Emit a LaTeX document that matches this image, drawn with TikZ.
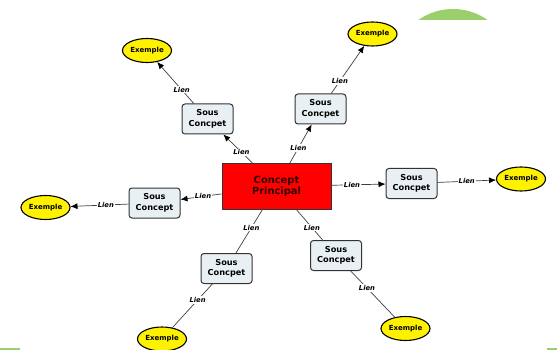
\documentclass[tikz,border=0pt]{standalone}
\usepackage{fontspec}
\setmainfont{DejaVu Sans}
\usetikzlibrary{arrows.meta,shapes.geometric}
\definecolor{boxfill}{HTML}{E9F0F3}
\definecolor{boxline}{HTML}{333333}
\definecolor{linkgray}{HTML}{404040}
\definecolor{slidegreen}{HTML}{9BCF6B}
\definecolor{cptext}{HTML}{300000}
\tikzset{principal/.style={draw=boxline,line width=1pt,fill=red,
        minimum width=109pt,minimum height=45pt,inner sep=0pt,
        align=center,text=cptext,font=\bfseries\fontsize{9.9}{11.5}\selectfont},
    souscpt/.style={draw=boxline,line width=1pt,fill=boxfill,rounded corners=3pt,
        minimum width=51pt,minimum height=30pt,inner sep=0pt,
        align=center,font=\bfseries\fontsize{8.2}{10.5}\selectfont},
    exemple/.style={ellipse,draw=black,line width=1.1pt,fill=yellow,
        minimum width=49pt,minimum height=24pt,inner sep=0pt,
        font=\bfseries\fontsize{7}{8}\selectfont},
    lien/.style={fill=white,inner sep=1pt,font=\bfseries\itshape\fontsize{6.8}{8}\selectfont},
    lk/.style={draw=linkgray,line width=0.7pt},
    lkarr/.style={lk,-{Latex[length=7pt,width=6pt,color=black]}},
    }

\begin{document}
\begin{tikzpicture}[x=1pt,y=-1pt]
\useasboundingbox (0,0) rectangle (557,350);
% fond de la diapositive
\begin{scope}
\clip (0,0) rectangle (557,20);
\fill[slidegreen] (453,69) circle (60pt);
\end{scope}
\fill[slidegreen] (0,348) rectangle (20,350);
\fill[slidegreen] (547,348) rectangle (557,350);

% concepts
\node[principal] (cp) at (276.5,186.5) {Concept\\Principal};
\node[souscpt] (scE) at (411.5,183.5) {Sous\\Concpet};
\node[exemple] (exE) at (521,179) {Exemple};
\node[souscpt] (scW) at (154.5,203) {Sous\\Concept};
\node[exemple] (exW) at (45.5,207.5) {Exemple};
\node[souscpt] (scNW) at (207.5,119) {Sous\\Concpet};
\node[exemple] (exNW) at (147,50.5) {Exemple};
\node[souscpt] (scNE) at (320.5,109) {Sous\\Concpet};
\node[exemple] (exNE) at (372.5,34) {Exemple};
\node[souscpt] (scSW) at (226.5,268.5) {Sous\\Concpet};
\node[exemple] (exSW) at (162,339) {Exemple};
\node[souscpt] (scSE) at (336,255.5) {Sous\\Concpet};
\node[exemple] (exSE) at (405.5,328.5) {Exemple};

% liens
\draw[lkarr] (cp) -- node[lien,pos=0.38] {Lien} (scE);
\draw[lkarr] (scE) -- node[lien,pos=0.5] {Lien} (exE);
\draw[lkarr] (cp) -- node[lien,pos=0.45] {Lien} (scW);
\draw[lkarr] (scW) -- node[lien,pos=0.39] {Lien} (exW);
\draw[lkarr] (cp) -- node[lien,pos=0.39] {Lien} (scNW);
\draw[lkarr] (scNW) -- node[lien,pos=0.33] {Lien} (exNW);
\draw[lkarr] (cp) -- node[lien,pos=0.4] {Lien} (scNE);
\draw[lkarr] (scNE) -- node[lien,pos=0.26] {Lien} (exNE);
\draw[lk] (cp) -- node[lien,pos=0.42] {Lien} (scSW);
\draw[lk] (scSW) -- node[lien,pos=0.37] {Lien} (exSW);
\draw[lk] (cp) -- node[lien,pos=0.59] {Lien} (scSE);
\draw[lk] (scSE) -- node[lien,pos=0.37] {Lien} (exSE);
\end{tikzpicture}
\end{document}
